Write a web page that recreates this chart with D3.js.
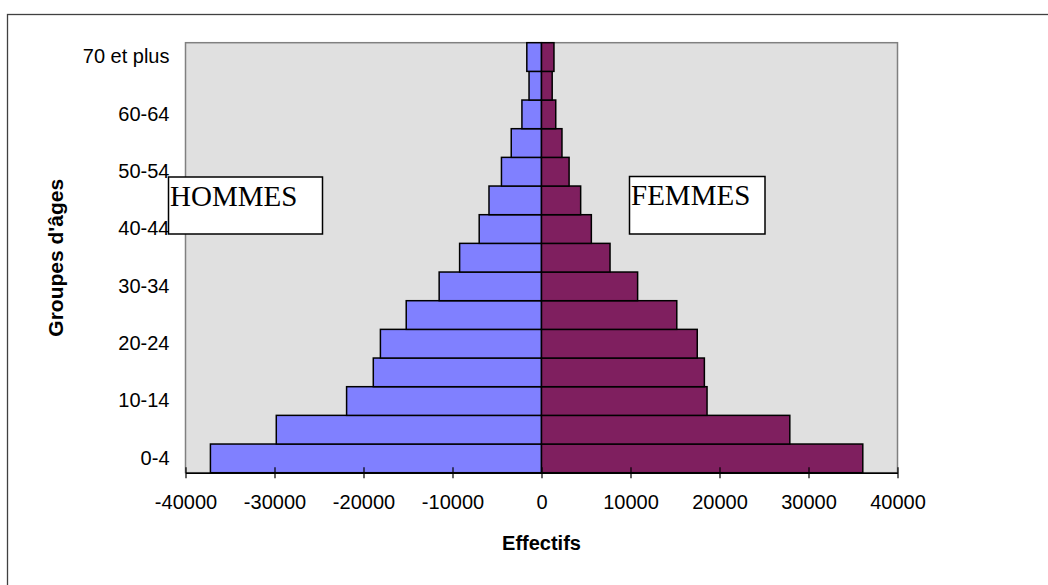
<!DOCTYPE html>
<html>
<head>
<meta charset="utf-8">
<script src="https://cdn.jsdelivr.net/npm/d3@7"></script>
<style>
  body { margin: 0; background: #fff; }
</style>
</head>
<body>
<div id="chart"></div>
<script>
// age groups, bottom to top
const ages = ["0-4", "5-9", "10-14", "15-19", "20-24", "25-29", "30-34", "35-39",
  "40-44", "45-49", "50-54", "55-59", "60-64", "65-69", "70 et plus"];
const ageLabels = ["0-4", "10-14", "20-24", "30-34", "40-44", "50-54", "60-64", "70 et plus"];

// effectifs
const hommes = [37200, 29800, 21900, 18900, 18100, 15200, 11500, 9200, 7000, 5900, 4500, 3400, 2200, 1400, 1650];
const femmes = [36100, 27900, 18600, 18300, 17500, 15200, 10800, 7700, 5600, 4400, 3100, 2300, 1600, 1200, 1400];

const xTicks = [-40000, -30000, -20000, -10000, 0, 10000, 20000, 30000, 40000];

const width = 1048, height = 585;
const margin = { top: 42.7, right: 150.5, bottom: 112.3, left: 185.5 };
const sans = "'Liberation Sans', Arial, sans-serif";
const serif = "'Liberation Serif', 'Times New Roman', serif";

const svg = d3.select("#chart").append("svg")
  .attr("width", width)
  .attr("height", height)
  .style("font-family", sans);

// chart area border (runs off the page on the right and bottom)
svg.append("rect")
  .attr("x", 7.5).attr("y", 14.5)
  .attr("width", 1200).attr("height", 800)
  .attr("fill", "none")
  .attr("stroke", "#404040")
  .attr("stroke-width", 1.3);

const xScale = d3.scaleLinear()
  .domain([-40000, 40000])
  .range([margin.left, width - margin.right]);

const yScale = d3.scaleBand()
  .domain(ages)
  .range([height - margin.bottom, margin.top])
  .padding(0);

// plot area
svg.append("rect")
  .attr("x", margin.left)
  .attr("y", margin.top)
  .attr("width", xScale.range()[1] - margin.left)
  .attr("height", height - margin.bottom - margin.top)
  .attr("fill", "#e0e0e0")
  .attr("stroke", "#808080")
  .attr("stroke-width", 1.5);

const bars = svg.append("g");

// hommes on the left
bars.selectAll(".homme")
  .data(ages)
  .join("rect")
  .attr("class", "homme")
  .attr("x", (d, i) => xScale(-hommes[i]))
  .attr("y", d => yScale(d))
  .attr("width", (d, i) => xScale(0) - xScale(-hommes[i]))
  .attr("height", yScale.bandwidth())
  .attr("fill", "#8080ff")
  .attr("stroke", "#000")
  .attr("stroke-width", 1.5);

// femmes on the right
bars.selectAll(".femme")
  .data(ages)
  .join("rect")
  .attr("class", "femme")
  .attr("x", xScale(0))
  .attr("y", d => yScale(d))
  .attr("width", (d, i) => xScale(femmes[i]) - xScale(0))
  .attr("height", yScale.bandwidth())
  .attr("fill", "#7f1f5f")
  .attr("stroke", "#000")
  .attr("stroke-width", 1.5);

// x axis, ticks cross the line
const xAxis = svg.append("g")
  .attr("transform", `translate(0,${height - margin.bottom})`)
  .call(d3.axisBottom(xScale).tickValues(xTicks).tickFormat(d => String(d)).tickSizeOuter(0));

xAxis.select(".domain").attr("stroke", "#000").attr("stroke-width", 1.5);
xAxis.selectAll(".tick line").attr("y1", -5.5).attr("y2", 5.5).attr("stroke", "#000").attr("stroke-width", 1.2);
xAxis.selectAll(".tick text")
  .attr("y", 36.5).attr("dy", null)
  .attr("font-size", 20)
  .attr("font-family", sans)
  .attr("fill", "#000");

// y axis, labels only
const yAxis = svg.append("g")
  .attr("transform", `translate(${margin.left},0)`)
  .call(d3.axisLeft(yScale).tickValues(ageLabels).tickSize(0).tickPadding(16));

yAxis.select(".domain").remove();
yAxis.selectAll(".tick text")
  .attr("font-size", 20)
  .attr("font-family", sans)
  .attr("fill", "#000");

// axis titles
svg.append("text")
  .attr("x", xScale(0))
  .attr("y", 550)
  .attr("text-anchor", "middle")
  .attr("font-size", 20)
  .attr("font-weight", "bold")
  .text("Effectifs");

svg.append("text")
  .attr("transform", `translate(63,${(margin.top + height - margin.bottom) / 2}) rotate(-90)`)
  .attr("text-anchor", "middle")
  .attr("font-size", 21)
  .attr("font-weight", "bold")
  .text("Groupes d'âges");

// text boxes
const boxes = [
  { label: "HOMMES", x: 168.5, y: 177, w: 154, h: 57 },
  { label: "FEMMES", x: 629.5, y: 176.5, w: 135.5, h: 57.5 }
];

const box = svg.selectAll(".box")
  .data(boxes)
  .join("g")
  .attr("class", "box");

box.append("rect")
  .attr("x", d => d.x)
  .attr("y", d => d.y)
  .attr("width", d => d.w)
  .attr("height", d => d.h)
  .attr("fill", "#fff")
  .attr("stroke", "#000")
  .attr("stroke-width", 1.5);

box.append("text")
  .attr("x", d => d.x + 1.5)
  .attr("y", d => d.y + 28.5)
  .style("font-family", serif)
  .attr("font-size", 29)
  .attr("fill", "#000")
  .text(d => d.label);
</script>
</body>
</html>
